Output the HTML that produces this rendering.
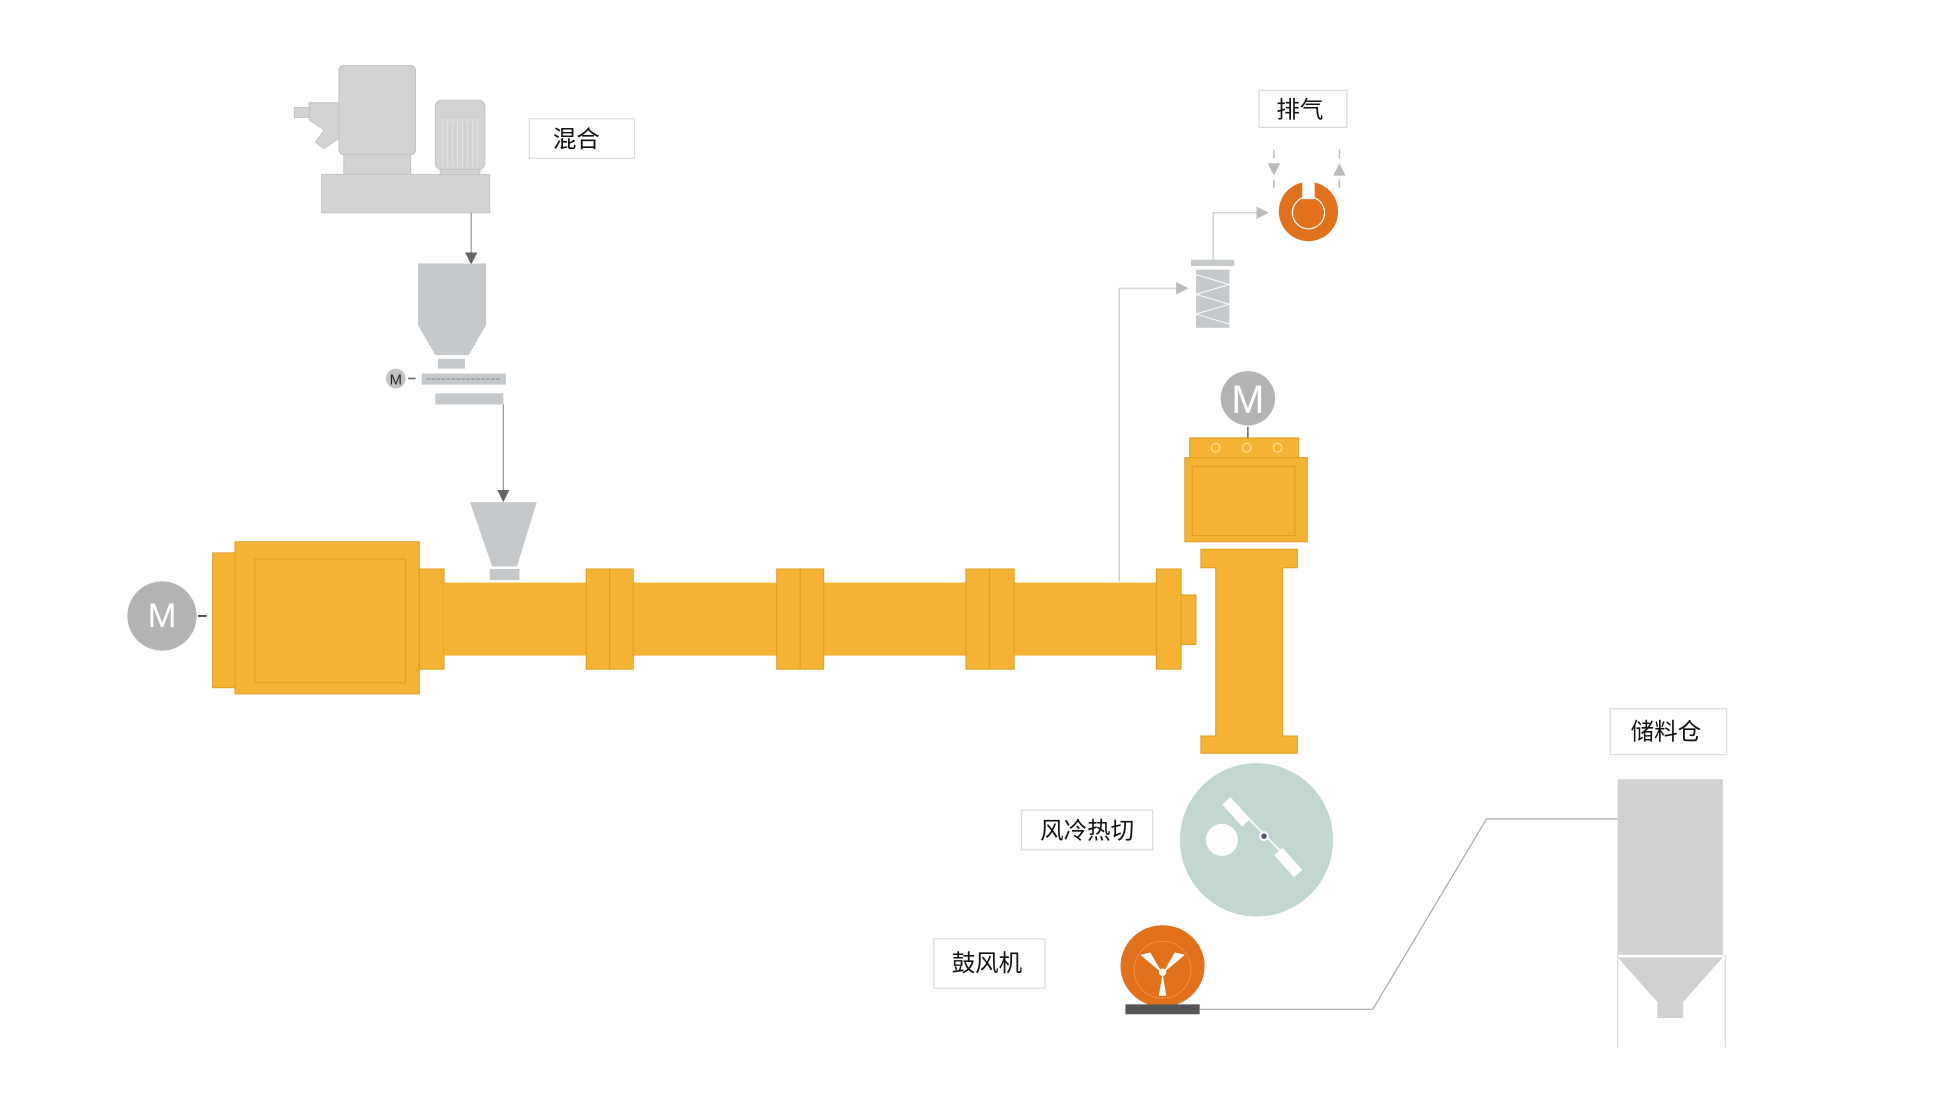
<!DOCTYPE html>
<html><head><meta charset="utf-8"><style>
html,body{margin:0;padding:0;background:#fff;}
svg{display:block;}
text{font-family:"Liberation Sans","Noto Sans CJK SC",sans-serif;}
</style></head><body>
<svg width="1938" height="1098" viewBox="0 0 1567 887.7" preserveAspectRatio="none" xmlns="http://www.w3.org/2000/svg">
<rect width="1600" height="900" fill="#fff"/>
<defs>
<marker id="ah" markerWidth="10" markerHeight="10" refX="9" refY="5" orient="auto" markerUnits="userSpaceOnUse"><path d="M0,0 L10,5 L0,10 Z" fill="#666"/></marker>
<marker id="ahl" markerWidth="10" markerHeight="10" refX="9" refY="5" orient="auto" markerUnits="userSpaceOnUse"><path d="M0,0 L10,5 L0,10 Z" fill="#bbb"/></marker>
</defs>

<!-- mixer -->
<g fill="#d3d3d3" stroke="#c4c4c4" stroke-width="0.8">
<rect x="238" y="87" width="14" height="8"/>
<path d="M250,83 L274,83 L274,112 L262,120 L255,115 L262,105 L250,97 Z"/>
<rect x="274" y="53" width="62" height="72" rx="4"/>
<rect x="278" y="125" width="54" height="16"/>
<rect x="352" y="81" width="40" height="56" rx="5"/>
<rect x="356" y="137" width="32" height="5"/>
<rect x="260" y="141" width="136" height="31"/>
</g>
<g stroke="#e6e6e6" stroke-width="0.6">
<line x1="356" y1="97" x2="388" y2="97"/>
<line x1="358" y1="98" x2="358" y2="135"/><line x1="362" y1="98" x2="362" y2="135"/><line x1="366" y1="98" x2="366" y2="135"/><line x1="370" y1="98" x2="370" y2="135"/><line x1="374" y1="98" x2="374" y2="135"/><line x1="378" y1="98" x2="378" y2="135"/><line x1="382" y1="98" x2="382" y2="135"/><line x1="386" y1="98" x2="386" y2="135"/>
</g>
<line x1="381" y1="172" x2="381" y2="213" stroke="#999" stroke-width="1" marker-end="url(#ah)"/>

<!-- hopper -->
<g fill="#c5c9cc">
<rect x="338" y="213" width="55" height="50"/>
<path d="M338,263 L393,263 L379,287 L352,287 Z"/>
<rect x="354" y="290" width="22" height="8"/>
<rect x="341" y="302" width="68" height="9"/>
<rect x="352" y="318" width="55" height="9"/>
</g>
<line x1="345" y1="306.5" x2="405" y2="306.5" stroke="#999" stroke-width="1.2" stroke-dasharray="3,1"/>
<circle cx="320" cy="306" r="8" fill="#c3c3c3"/>
<text x="320" y="311" font-size="12" text-anchor="middle" fill="#222">M</text>
<line x1="330" y1="306" x2="336" y2="306" stroke="#666" stroke-width="1.2"/>
<line x1="407" y1="327" x2="407" y2="405" stroke="#999" stroke-width="1" marker-end="url(#ah)"/>

<!-- feed hopper -->
<path d="M380,406 L434,406 L418,458 L398,458 Z" fill="#c5c9cc"/>
<rect x="396" y="460" width="24" height="9" fill="#c5c9cc"/>

<!-- extruder -->
<g fill="#f5b335" stroke="#dd9c22" stroke-width="0.8">
<rect x="172" y="447" width="18" height="109"/>
<rect x="190" y="438" width="149" height="123"/>
<rect x="339" y="460" width="20" height="81"/>
<rect x="359" y="471" width="596" height="59" stroke="none"/>
<rect x="474" y="460" width="19" height="81"/><rect x="493" y="460" width="19" height="81"/>
<rect x="628" y="460" width="19" height="81"/><rect x="647" y="460" width="19" height="81"/>
<rect x="781" y="460" width="19" height="81"/><rect x="800" y="460" width="20" height="81"/>
<rect x="935" y="460" width="20" height="81"/>
<rect x="955" y="481" width="12" height="40"/>
</g>
<rect x="206" y="452" width="122" height="100" fill="none" stroke="#dd9c22" stroke-width="0.8"/>
<ellipse cx="131" cy="498" rx="28" ry="28" fill="#b3b3b3"/>
<text x="131" y="507" font-size="28" text-anchor="middle" fill="#fff">M</text>
<line x1="160" y1="498" x2="167" y2="498" stroke="#444" stroke-width="1.5"/>

<!-- die head -->
<g fill="#f5b335" stroke="#dd9c22" stroke-width="0.8">
<path d="M971,444 L1049,444 L1049,459 L1037,459 L1037,595 L1049,595 L1049,609 L971,609 L971,595 L983,595 L983,459 L971,459 Z"/>
<rect x="958" y="370" width="99" height="68"/>
<rect x="962" y="354" width="88" height="16"/>
</g>
<rect x="964" y="377" width="83" height="56" fill="none" stroke="#dd9c22" stroke-width="0.8"/>
<g fill="none" stroke="#fde7b0" stroke-width="0.8"><circle cx="983" cy="362" r="3.5"/><circle cx="1008" cy="362" r="3.5"/><circle cx="1033" cy="362" r="3.5"/></g>
<line x1="1009" y1="345" x2="1009" y2="354" stroke="#444" stroke-width="1"/>
<circle cx="1009" cy="322" r="22" fill="#b3b3b3"/>
<text x="1009" y="334" font-size="32" text-anchor="middle" fill="#fff">M</text>

<!-- vent -->
<polyline points="905,470 905,233 960,233" fill="none" stroke="#ccc" stroke-width="1" marker-end="url(#ahl)"/>
<rect x="963" y="210" width="35" height="5" fill="#c5c9cc"/>
<rect x="967" y="218" width="27" height="47" fill="#c5c9cc"/>
<polyline points="967,222 994,230 967,238 994,246 967,254 994,262" fill="none" stroke="#fff" stroke-width="0.8"/>
<polyline points="981,210 981,172 1025,172" fill="none" stroke="#ccc" stroke-width="1" marker-end="url(#ahl)"/>
<circle cx="1058" cy="171" r="24" fill="#e2711d"/>
<rect x="1053" y="145" width="10" height="16" fill="#fff"/>
<circle cx="1058" cy="172" r="13" fill="none" stroke="#fff" stroke-width="1"/>
<g stroke="#bbb" stroke-width="1.2">
<line x1="1030" y1="121" x2="1030" y2="128"/><line x1="1030" y1="145" x2="1030" y2="152"/>
<line x1="1083" y1="121" x2="1083" y2="128"/><line x1="1083" y1="145" x2="1083" y2="152"/>
</g>
<path d="M1025,132 L1035,132 L1030,142 Z" fill="#bbb"/>
<path d="M1078,142 L1088,142 L1083,132 Z" fill="#bbb"/>
<rect x="1018" y="73" width="71" height="30" fill="#fff" stroke="#ddd"/>
<text x="1051" y="95" font-size="19" text-anchor="middle" fill="#111">排气</text>

<!-- cutter -->
<circle cx="1016" cy="679" r="62" fill="#c2d6d2"/>
<circle cx="988" cy="679" r="13" fill="#fff"/>
<line x1="996" y1="648" x2="1050" y2="703" stroke="#fff" stroke-width="1.2"/>
<rect x="988" y="652" width="24" height="9" fill="#fff" transform="rotate(48 1000 656)"/>
<rect x="1030" y="693" width="24" height="9" fill="#fff" transform="rotate(48 1042 697)"/>
<circle cx="1022" cy="676" r="4" fill="#fff"/><circle cx="1022" cy="676" r="2.2" fill="#557"/>
<rect x="826" y="655" width="106" height="32" fill="#fff" stroke="#ddd"/>
<text x="879" y="678" font-size="19" text-anchor="middle" fill="#111">风冷热切</text>

<!-- blower -->
<ellipse cx="940" cy="781" rx="34" ry="33" fill="#e2711d"/>
<circle cx="940" cy="784" r="23" fill="none" stroke="#f39a55" stroke-width="0.6"/>
<g fill="#fff">
<path d="M940,787 L922,772 L930,770 Z"/>
<path d="M940,787 L958,772 L950,770 Z"/>
<path d="M940,787 L937,805 L943,805 Z"/>
<circle cx="940" cy="786" r="3"/>
</g>
<rect x="910" y="812" width="60" height="8" fill="#555"/>
<rect x="755" y="759" width="90" height="40" fill="#fff" stroke="#ddd"/>
<text x="798" y="785" font-size="19" text-anchor="middle" fill="#111">鼓风机</text>
<polyline points="970,816 1110,816 1202,662 1308,662" fill="none" stroke="#aaa" stroke-width="1"/>

<!-- silo -->
<rect x="1308" y="630" width="85" height="142" fill="#d1d1d1"/>
<path d="M1308,774 L1393,774 L1361,810 L1340,810 Z" fill="#d1d1d1"/>
<rect x="1340" y="810" width="21" height="13" fill="#d1d1d1"/>
<line x1="1308" y1="772" x2="1308" y2="847" stroke="#ddd" stroke-width="1"/>
<line x1="1395" y1="772" x2="1395" y2="847" stroke="#ddd" stroke-width="1"/>
<rect x="1302" y="573" width="94" height="37" fill="#fff" stroke="#ddd"/>
<text x="1347" y="598" font-size="19" text-anchor="middle" fill="#111">储料仓</text>

<rect x="428" y="96" width="85" height="32" fill="#fff" stroke="#ddd"/>
<text x="466" y="119" font-size="19" text-anchor="middle" fill="#111">混合</text>
</svg>
</body></html>
